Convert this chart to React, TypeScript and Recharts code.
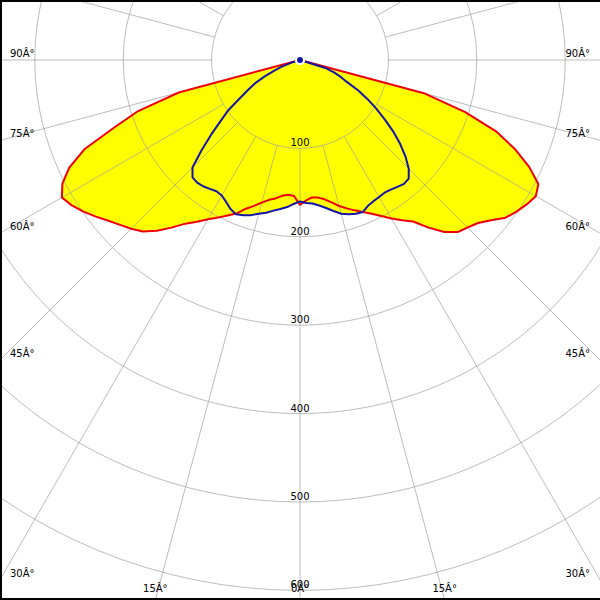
import React from 'react';
import { RadarChart, Radar, PolarGrid, PolarAngleAxis, PolarRadiusAxis } from 'recharts';

// gamma angles (deg from nadir) on one side of the lit half
const gammaDeg = [
  0, 2.5, 5, 7.5, 10, 12.5, 15, 17.5, 20, 22.5, 25, 27.5, 30, 32.5, 35, 37.5,
  40, 42.5, 45, 47.5, 50, 52.5, 55, 57.5, 60, 62.5, 65, 67.5, 70, 72.5, 75,
];

// C0-C180 plane (red), left and right half
const redLeft = [
  164, 154, 153, 155, 159, 162, 167, 173, 179, 188, 194, 201, 208, 217, 226, 239,
  252, 263, 270, 276, 283, 291, 299, 306, 311, 303, 288, 264, 224, 192, 142,
];
const redRight = [
  164, 159, 156, 157, 160, 165, 171, 176, 181, 186, 192, 199, 207, 215, 223, 239,
  254, 264, 268, 273, 282, 293, 299, 304, 308, 304, 286, 263, 236, 196, 145,
];

// C90-C270 plane (blue)
const blueLeft = [
  160, 163, 167, 170, 173, 177, 180, 184, 187, 189, 186, 181, 177, 176, 178, 180,
  181, 180, 172, 151, 131, 113, 99, 81, 68, 58, 44, 32, 22, 10, 0,
];
const blueRight = [
  160, 162, 163, 166, 170, 175, 180, 183, 185, 186, 182, 180, 179, 178, 179, 181,
  183, 182, 174, 162, 148, 133, 117, 102, 88, 74, 58, 50, 41, 30, 0,
];

const spokeGamma = [
  0, 15, 30, 45, 60, 75, 90, 105, 120, 135, 150, 165,
  180, 195, 210, 225, 240, 255, 270, 285, 300, 315, 330, 345,
];
const ringValues = [100, 200, 300, 400, 500, 600, 700, 800];
const labelledRingMax = 600;

const SIZE = 600;
const CX = 300;
const CY = 60;
const PX_PER_UNIT = 0.884;
const OUTER = ringValues[ringValues.length - 1] * PX_PER_UNIT;
const INNER = ringValues[0] * PX_PER_UNIT;
const STEP = 2.5;
const FONT = 'DejaVu Sans, Verdana, sans-serif';

const curveRows = Array.from({ length: 360 / STEP }, (_, i) => {
  const g = i * STEP;
  const li = gammaDeg.indexOf(g);
  const ri = gammaDeg.indexOf(360 - g);
  return {
    gamma: g,
    red: li >= 0 ? redLeft[li] : ri >= 0 ? redRight[ri] : 0,
    blue: li >= 0 ? blueLeft[li] : ri >= 0 ? blueRight[ri] : 0,
  };
});
const spokeRows = spokeGamma.map((g) => ({ gamma: g }));

// angle labels sit where a spoke leaves the frame
const AngleTick = (props: any) => {
  const { x, y, payload } = props;
  const dx = x - CX;
  const dy = y - CY;
  const len = Math.hypot(dx, dy) || 1;
  const ux = dx / len;
  const uy = dy / len;
  const hits: { t: number; side: string }[] = [];
  if (ux < -1e-6) hits.push({ t: -CX / ux, side: 'left' });
  if (ux > 1e-6) hits.push({ t: (SIZE - CX) / ux, side: 'right' });
  if (uy > 1e-6) hits.push({ t: (SIZE - CY) / uy, side: 'bottom' });
  if (uy < -1e-6) hits.push({ t: -CY / uy, side: 'top' });
  hits.sort((a, b) => a.t - b.t);
  const h = hits[0];
  if (!h || h.side === 'top') return <g />;
  const ex = CX + ux * h.t;
  const ey = CY + uy * h.t;
  const g = Number(payload.value);
  const label = `${g <= 180 ? g : 360 - g}Â°`;
  const common = { fontSize: 10, fontFamily: FONT, fill: '#000' };
  if (h.side === 'left') return <text x={10} y={ey - 3} textAnchor="start" {...common}>{label}</text>;
  if (h.side === 'right') return <text x={590} y={ey - 3} textAnchor="end" {...common}>{label}</text>;
  return <text x={ex} y={592} textAnchor="middle" {...common}>{label}</text>;
};

const RingTick = (props: any) => {
  if (props.payload.value > labelledRingMax) return <g />;
  return (
    <text x={props.x} y={props.y - 2} textAnchor="middle" fontSize={10} fontFamily={FONT} fill="#000">
      {props.payload.value}
    </text>
  );
};

const layer: React.CSSProperties = { position: 'absolute', left: 0, top: 0 };
const polar = { cx: CX, cy: CY, startAngle: -90, endAngle: -450, margin: { top: 0, right: 0, bottom: 0, left: 0 } };

export default function App() {
  return (
    <div style={{ position: 'absolute', left: 0, top: 0, width: SIZE, height: SIZE, overflow: 'hidden', background: '#fff' }}>
      {/* yellow fill */}
      <div style={layer}>
        <RadarChart width={SIZE} height={SIZE} data={curveRows} outerRadius={OUTER} innerRadius={0} {...polar}>
          <PolarAngleAxis dataKey="gamma" tick={false} axisLine={false} tickLine={false} />
          <PolarRadiusAxis domain={[0, 800]} tick={false} axisLine={false} />
          <Radar dataKey="red" stroke="none" fill="#ffff00" fillOpacity={1} isAnimationActive={false} />
          <Radar dataKey="blue" stroke="none" fill="#ffff00" fillOpacity={1} isAnimationActive={false} />
        </RadarChart>
      </div>
      {/* grid, starts at the 100 ring */}
      <div style={layer}>
        <RadarChart width={SIZE} height={SIZE} data={spokeRows} outerRadius={OUTER} innerRadius={INNER} {...polar}>
          <PolarGrid gridType="circle" stroke="#a0a0a0" strokeOpacity={0.7} />
          <PolarAngleAxis dataKey="gamma" tick={AngleTick} axisLine={false} tickLine={false} />
          <PolarRadiusAxis
            type="number"
            domain={[100, 800]}
            allowDataOverflow
            tickCount={8}
            angle={-90}
            axisLine={false}
            tick={RingTick}
          />
        </RadarChart>
      </div>
      {/* curves */}
      <div style={layer}>
        <RadarChart width={SIZE} height={SIZE} data={curveRows} outerRadius={OUTER} innerRadius={0} {...polar}>
          <PolarAngleAxis dataKey="gamma" tick={false} axisLine={false} tickLine={false} />
          <PolarRadiusAxis domain={[0, 800]} tick={false} axisLine={false} />
          <Radar dataKey="red" stroke="#ee0000" strokeWidth={2} strokeLinejoin="bevel" fill="none" isAnimationActive={false} />
          <Radar dataKey="blue" stroke="#1414a8" strokeWidth={2} strokeLinejoin="bevel" fill="none" isAnimationActive={false} />
        </RadarChart>
      </div>
      <div
        style={{
          ...layer,
          width: SIZE,
          height: SIZE,
          boxSizing: 'border-box',
          borderTop: '2px solid #000',
          borderLeft: '2px solid #000',
          borderBottom: '2px solid #000',
          pointerEvents: 'none',
        }}
      />
    </div>
  );
}
